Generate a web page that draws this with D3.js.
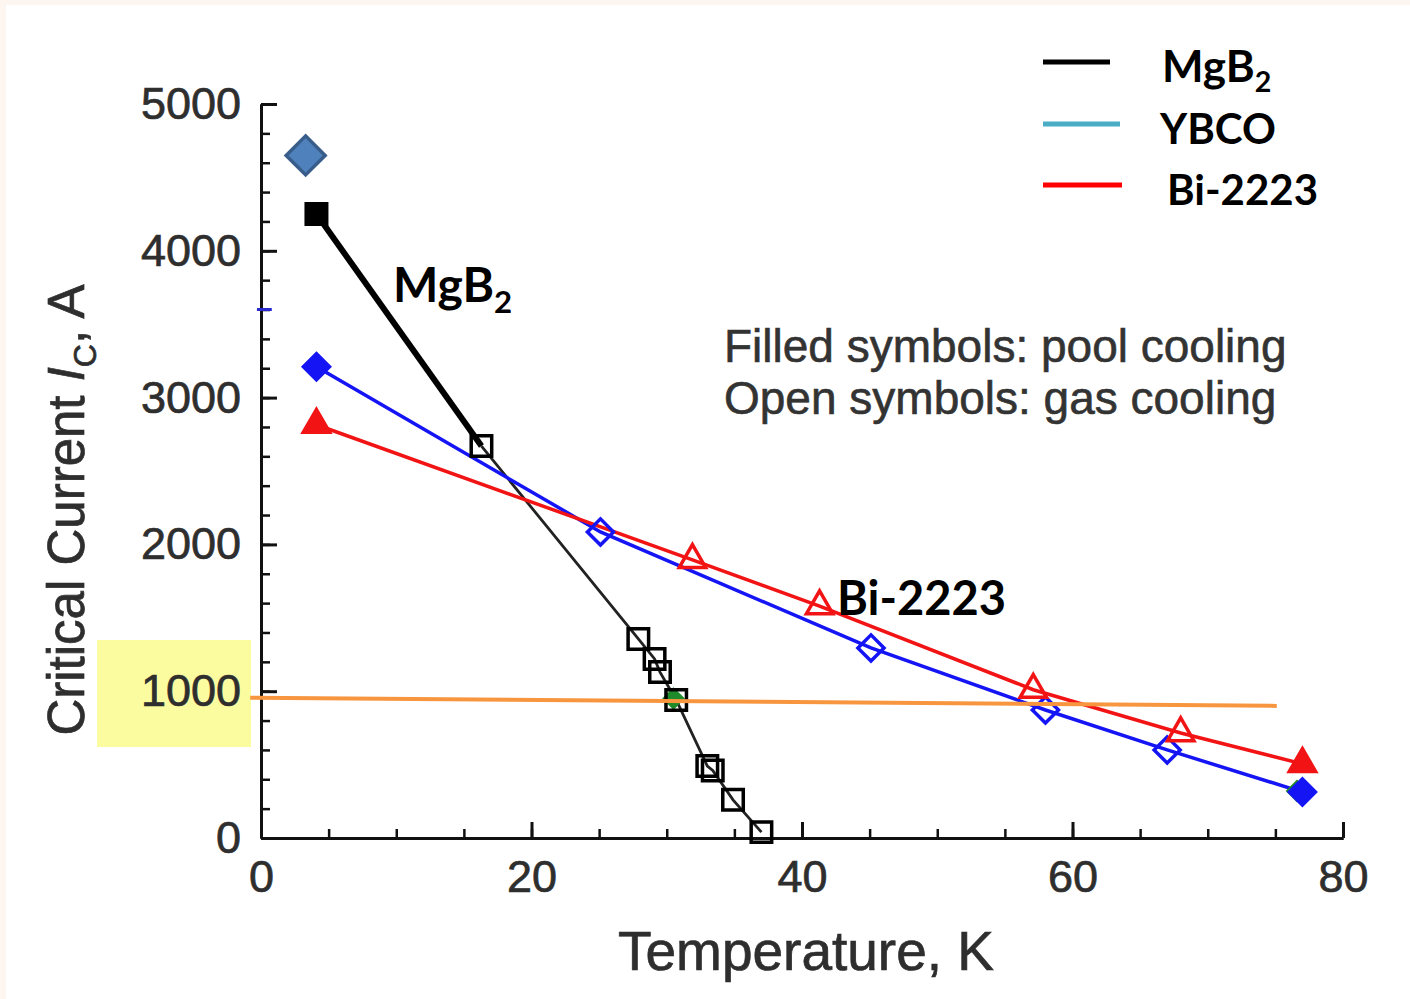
<!DOCTYPE html>
<html>
<head>
<meta charset="utf-8">
<script src="https://cdn.jsdelivr.net/npm/d3@7"></script>
<style>
  html, body { margin: 0; padding: 0; background: #fff; }
  svg { display: block; }
</style>
</head>
<body>
<svg id="chart" width="1410" height="999"></svg>
<script>
// MgB2 (black squares)
const mgb2Temp = [4.1, 16.3, 27.9, 29.1, 29.5, 30.7, 33.0, 33.4, 34.9, 37.0];
const mgb2Ic   = [4250, 2670, 1356, 1220, 1130, 940, 490, 460, 260, 40];
const mgb2Fill = [1, 0, 0, 0, 0, 0, 0, 0, 0, 0];
// YBCO (blue diamonds)
const ybcoTemp = [4.1, 25.1, 45.1, 58.0, 67.0, 77.0];
const ybcoIc   = [3210, 2085, 1295, 872, 600, 313];
const ybcoFill = [1, 0, 0, 0, 0, 1];
// Bi-2223 (red triangles)
const biTemp = [4.1, 31.9, 41.3, 57.1, 68.0, 77.0];
const biIc   = [2815, 1895, 1580, 1010, 715, 505];
const biFill = [1, 0, 0, 0, 0, 1];
// green leftovers behind some markers
const greenTemp = [30.5, 76.6];
const greenIc   = [950, 320];
// big highlighted point and 1000 A reference line
const bigTemp = [3.3], bigIc = [4650];
const refTemp = [-0.8, 75.1], refIc = [955, 900];

const yTicks = [0, 1000, 2000, 3000, 4000, 5000];
const xTicks = [0, 20, 40, 60, 80];
const legendItems = [
  { label: "MgB", sub: "2", color: "#000000" },
  { label: "YBCO", sub: "", color: "#4bacc6" },
  { label: "Bi-2223", sub: "", color: "#ff0000" }
];

const svg = d3.select("#chart");
const x = d3.scaleLinear().domain([0, 80]).range([261, 1343]);
const y = d3.scaleLinear().domain([0, 5000]).range([838, 104]);
const SANS = "'Liberation Sans', Arial, sans-serif";
const BOLD = "Lato, 'Open Sans', sans-serif";
const BLUE = "#1414f5", RED = "#f21414", GREY = "#2e2e2e";

// background with the thin cream border
svg.append("rect").attr("width", 1410).attr("height", 999).attr("fill", "#fdf5ef");
svg.append("rect").attr("x", 6).attr("y", 5).attr("width", 1404).attr("height", 994).attr("fill", "#ffffff");

// yellow highlight behind the 1000 label
svg.append("rect").attr("x", 97).attr("y", 640).attr("width", 154).attr("height", 107).attr("fill", "#fbfb9f");

// ---- axes ----
function styleAxis(g, w) {
  g.select(".domain").attr("stroke", "#111").attr("stroke-width", 3);
  g.selectAll(".tick line").attr("stroke", "#111").attr("stroke-width", w);
  g.selectAll("text").attr("font-family", SANS).attr("font-size", 45).attr("fill", GREY)
    .attr("stroke", GREY).attr("stroke-width", 0.7);
}
const gyMinor = svg.append("g").attr("transform", "translate(261,0)")
  .call(d3.axisLeft(y).tickValues(d3.range(0, 5001, 200)).tickSizeInner(-9).tickSizeOuter(0).tickFormat(""));
styleAxis(gyMinor, 2.5);
const gy = svg.append("g").attr("transform", "translate(261,0)")
  .call(d3.axisLeft(y).tickValues(yTicks).tickSizeInner(-16).tickSizeOuter(0).tickPadding(20).tickFormat(d3.format("d")));
styleAxis(gy, 3);

const gxMinor = svg.append("g").attr("transform", "translate(0,838)")
  .call(d3.axisBottom(x).tickValues(d3.range(0, 81, 5)).tickSizeInner(-9).tickSizeOuter(0).tickFormat(""));
styleAxis(gxMinor, 2.5);
const gx = svg.append("g").attr("transform", "translate(0,838)")
  .call(d3.axisBottom(x).tickValues(xTicks).tickSizeInner(-16).tickSizeOuter(0).tickPadding(22).tickFormat(d3.format("d")));
styleAxis(gx, 3);

// axis titles
svg.append("text").attr("x", 806).attr("y", 970).attr("text-anchor", "middle")
  .attr("font-family", SANS).attr("font-size", 55).attr("fill", GREY)
  .attr("stroke", GREY).attr("stroke-width", 0.7).text("Temperature, K");
const yt = svg.append("text").attr("transform", "translate(84,510) rotate(-90)").attr("text-anchor", "middle")
  .attr("font-family", SANS).attr("font-size", 51).attr("fill", GREY)
  .attr("stroke", GREY).attr("stroke-width", 0.7);
yt.append("tspan").text("Critical Current ");
yt.append("tspan").attr("font-style", "italic").text("I");
yt.append("tspan").attr("font-size", 32).attr("dy", 12).text("C");
yt.append("tspan").attr("dy", -12).text(", A");

// small blue leftover on the y axis
svg.append("line").attr("x1", x(-0.3)).attr("x2", x(0.8)).attr("y1", y(3600)).attr("y2", y(3600))
  .attr("stroke", "#2a2ad0").attr("stroke-width", 3);

// ---- lines ----
const line = d3.line().x((d) => x(d[0])).y((d) => y(d[1]));
const zip = (a, b) => a.map((v, i) => [v, b[i]]);
const mgb2 = zip(mgb2Temp, mgb2Ic), ybco = zip(ybcoTemp, ybcoIc), bi = zip(biTemp, biIc);

svg.append("path").attr("d", line(mgb2.slice(1))).attr("fill", "none").attr("stroke", "#222").attr("stroke-width", 2.8);
svg.append("path").attr("d", line(mgb2.slice(0, 2))).attr("fill", "none").attr("stroke", "#000").attr("stroke-width", 6);
svg.append("path").attr("d", line(ybco)).attr("fill", "none").attr("stroke", BLUE).attr("stroke-width", 3.5);
svg.append("path").attr("d", line(bi)).attr("fill", "none").attr("stroke", RED).attr("stroke-width", 3.5);

// ---- markers ----
const sq = d3.symbol().type(d3.symbolSquare);
const tri = d3.symbol().type(d3.symbolTriangle);

svg.append("g").selectAll("path").data(zip(greenTemp, greenIc)).join("path")
  .attr("transform", (d) => `translate(${x(d[0])},${y(d[1])}) rotate(45)`)
  .attr("d", sq.size(260)()).attr("fill", "#1f8a2a");

svg.append("g").selectAll("path").data(mgb2).join("path")
  .attr("transform", (d) => `translate(${x(d[0])},${y(d[1])})`)
  .attr("d", sq.size(420)())
  .attr("fill", (d, i) => (mgb2Fill[i] ? "#000" : "none"))
  .attr("stroke", "#000").attr("stroke-width", 3.5);

svg.append("g").selectAll("path").data(ybco).join("path")
  .attr("transform", (d) => `translate(${x(d[0])},${y(d[1])}) rotate(45)`)
  .attr("d", sq.size(340)())
  .attr("fill", (d, i) => (ybcoFill[i] ? BLUE : "none"))
  .attr("stroke", BLUE).attr("stroke-width", 3.5);

svg.append("g").selectAll("path").data(bi).join("path")
  .attr("transform", (d) => `translate(${x(d[0])},${y(d[1])})`)
  .attr("d", tri.size(300)())
  .attr("fill", (d, i) => (biFill[i] ? RED : "none"))
  .attr("stroke", RED).attr("stroke-width", 3.5);

svg.append("g").selectAll("path").data(zip(bigTemp, bigIc)).join("path")
  .attr("transform", (d) => `translate(${x(d[0])},${y(d[1])}) rotate(45)`)
  .attr("d", sq.size(760)())
  .attr("fill", "#4f81bd").attr("stroke", "#385d8a").attr("stroke-width", 3.5);

// reference line
svg.append("path").attr("d", line(zip(refTemp, refIc))).attr("fill", "none")
  .attr("stroke", "#f7963f").attr("stroke-width", 4);

// ---- annotations ----
["Filled symbols: pool cooling", "Open symbols: gas cooling"].forEach((s, i) => {
  svg.append("text").attr("x", 724).attr("y", 362 + i * 52).attr("font-family", SANS).attr("font-size", 46)
    .attr("fill", "#333").attr("stroke", "#333").attr("stroke-width", 0.6).text(s);
});

function boldLabel(px, py, size, label, sub) {
  const t = svg.append("text").attr("x", px).attr("y", py).attr("font-family", BOLD)
    .attr("font-weight", 700).attr("font-size", size).attr("fill", "#000");
  t.append("tspan").text(label);
  if (sub) t.append("tspan").attr("font-size", size * 0.65).attr("dy", size * 0.22).text(sub);
  return t;
}
boldLabel(393, 302, 48, "MgB", "2");
boldLabel(837, 615, 47, "Bi-2223", "");

// legend
const legY = [62, 124, 185], legTextX = [1162, 1160, 1167], legLen = [67, 77, 79], legSize = [44, 42, 42];
legendItems.forEach((d, i) => {
  svg.append("line").attr("x1", 1043).attr("x2", 1043 + legLen[i]).attr("y1", legY[i]).attr("y2", legY[i])
    .attr("stroke", d.color).attr("stroke-width", 5);
  boldLabel(legTextX[i], legY[i] + 20, legSize[i], d.label, d.sub);
});
</script>
</body>
</html>
